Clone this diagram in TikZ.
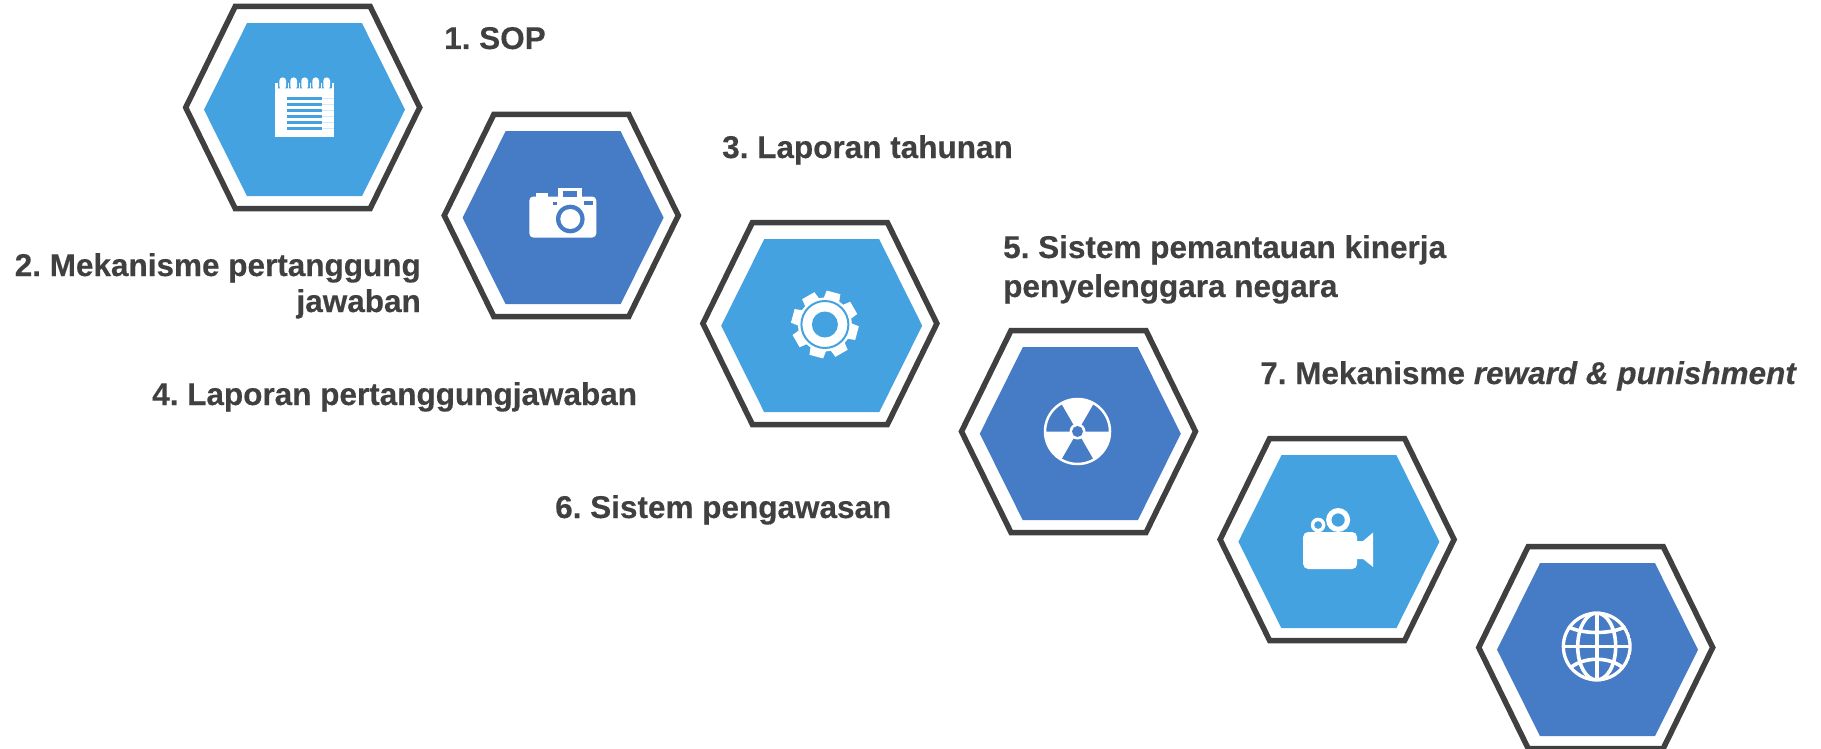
\documentclass[tikz,border=0pt]{standalone}
\usepackage{fontspec}
\setmainfont[BoldFeatures={FakeBold=0.35},BoldItalicFeatures={FakeBold=0.35}]{Liberation Sans}
\frenchspacing
\definecolor{lightblue}{HTML}{45A2E0}
\definecolor{darkblue}{HTML}{467BC5}
\definecolor{ink}{HTML}{404040}
\definecolor{faint}{HTML}{D5E8F6}
\tikzset{
  x=1pt,y=-1pt,
  label text/.style={inner sep=0pt,anchor=base west,text=ink,font=\fontsize{31.5}{36}\selectfont\bfseries},
  right text/.style={label text,anchor=base east},
  hexa/.pic={
    \fill[#1] (-98.7,2.2) -- (-55.7,-84.3) -- (59.3,-84.3) -- (102.3,2.2) -- (59.3,88.7) -- (-55.7,88.7) -- cycle;
    \draw[ink,line width=5.5pt,miter limit=10] (-117,0) -- (-67.5,-101) -- (67.5,-101) -- (117,0) -- (67.5,101) -- (-67.5,101) -- cycle;
  }
}
\begin{document}
\begin{tikzpicture}
\useasboundingbox (0,0) rectangle (1821,749);
\coordinate (h1) at (302.7,107.5);
\coordinate (h2) at (561.3,215.5);
\coordinate (h3) at (819.9,323.5);
\coordinate (h4) at (1078.5,431.5);
\coordinate (h5) at (1337.1,539.5);
\coordinate (h6) at (1595.7,647.5);
\pic at (h1) {hexa=lightblue};
\pic at (h2) {hexa=darkblue};
\pic at (h3) {hexa=lightblue};
\pic at (h4) {hexa=darkblue};
\pic at (h5) {hexa=lightblue};
\pic at (h6) {hexa=darkblue};
% notebook
\begin{scope}[shift={(h1)}]
  \fill[white] (-28,-24) rectangle (31,30);
  \foreach \a in {-20,-9,2,13,24}{
    \fill[lightblue] (\a-5,-25) rectangle (\a+5,-19);
    \fill[lightblue] (\a-5,-19) arc[start angle=180,end angle=360,radius=5];
    \fill[white,rounded corners=3pt] (\a-3.3,-30) rectangle (\a+3.3,-18);
  }
  \foreach \b in {-9,-3,3,9,15,21}{
    \fill[lightblue] (-16,\b-1.2) rectangle (19,\b+1.2);
    \fill[faint] (19,\b-.6) rectangle (31,\b+.6);
  }
\end{scope}
% camera
\begin{scope}[shift={(h2)}]
  \fill[white,rounded corners=4pt] (-32,-19) rectangle (35,22);
  \fill[white] (-25,-23) rectangle (-13,-17);
  \fill[white] (-3,-28) rectangle (21,-17);
  \fill[darkblue] (2,-25) rectangle (16,-18.5);
  \fill[darkblue] (-8,-14) rectangle (-4,-11);
  \fill[darkblue] (23,-15) rectangle (32,-11);
  \fill[darkblue] (9,3.5) circle[radius=14.3];
  \fill[white] (9,3.5) circle[radius=10];
\end{scope}
% gear
\begin{scope}[shift={(h3)},shift={(5,1)}]
  \fill[white] (0,0) circle[radius=27];
  \foreach \a in {-30,15,...,285}{
    \fill[white] (\a-18:26) -- (\a-12:34) -- (\a+12:34) -- (\a+18:26) -- cycle;
  }
  \draw[lightblue,line width=2pt] (0,0) circle[radius=23.5];
  \fill[lightblue] (0,0) circle[radius=13];
\end{scope}
% radiation
\begin{scope}[shift={(h4)},shift={(-1,0)}]
  \draw[white,line width=2.5pt] (0,0) circle[radius=32.5];
  \foreach \a in {-120,0,120}{
    \fill[white] (0,0) -- (\a:32.5) arc[start angle=\a,end angle=\a+60,radius=32.5] -- cycle;
  }
  \fill[white] (0,0) circle[radius=8];
  \fill[darkblue] (0,0) circle[radius=5.5];
\end{scope}
% video camera
\begin{scope}[shift={(h5)}]
  \fill[white,rounded corners=5pt] (-34,-7.5) rectangle (20,29.5);
  \fill[white] (19,1.5) -- (26,1.5) -- (36,-7) -- (36,27.5) -- (26,19.5) -- (19,19.5) -- cycle;
  \fill[white,even odd rule] (1,-19.5) circle[radius=12] (1,-19.5) circle[radius=6.7];
  \fill[white,even odd rule] (-19,-14.5) circle[radius=7.3] (-19,-14.5) circle[radius=4];
\end{scope}
% globe
\begin{scope}[shift={(h6)},shift={(1,-1)},white,line width=3.6pt]
  \clip (0,0) circle[radius=35];
  \draw (0,0) circle[radius=33.5];
  \draw (0,0) ellipse[x radius=19,y radius=33.5];
  \draw (0,-33) -- (0,33);
  \draw (-33,0) -- (33,0);
  \draw (-29,-20) .. controls (-14,-12) and (14,-12) .. (29,-20);
  \draw (-26,21) .. controls (-12,10) and (12,10) .. (26,21);
\end{scope}
\node[label text] (t1) at (444,49) {1. SOP};
\node[right text] (t2a) at (421,276) {2. Mekanisme pertanggung};
\node[right text] (t2b) at (421,312) {jawaban};
\node[label text] (t3) at (722,158) {3. Laporan tahunan};
\node[label text] (t4) at (152,405) {4. Laporan pertanggungjawaban};
\node[label text] (t5a) at (1003,258) {5. Sistem pemantauan kinerja};
\node[label text] (t5b) at (1003,297) {penyelenggara negara};
\node[label text] (t6) at (555,518) {6. Sistem pengawasan};
\node[label text] (t7) at (1260,384) {7. Mekanisme \textit{reward \& punishment}};
\end{tikzpicture}
\end{document}
